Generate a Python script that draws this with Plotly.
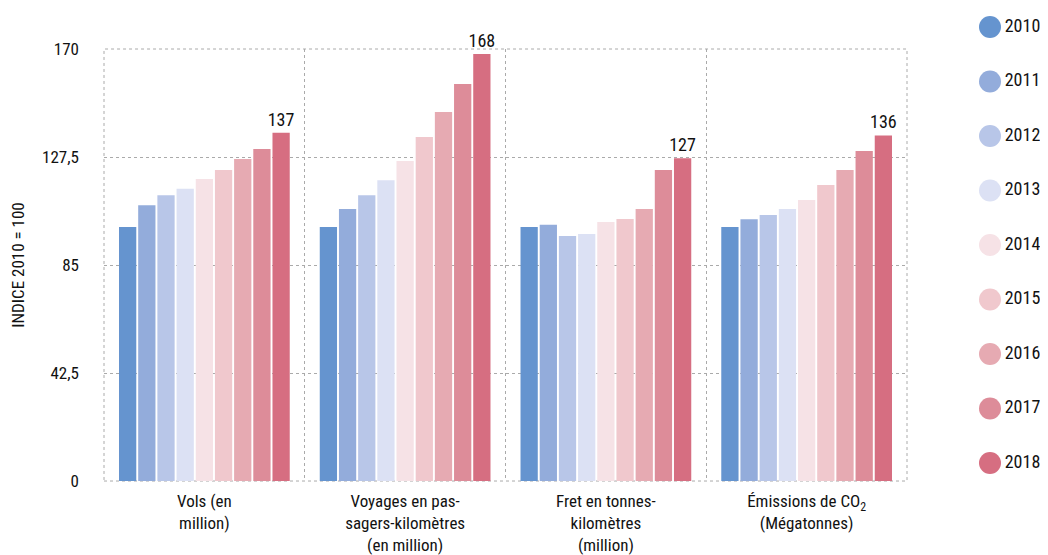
import plotly.graph_objects as go

categories = [
    "Vols (en<br>million)",
    "Voyages en pas-<br>sagers-kilomètres<br>(en million)",
    "Fret en tonnes-<br>kilomètres<br>(million)",
    "Émissions de CO<sub>2</sub><br>(Mégatonnes)",
]
years = ["2010", "2011", "2012", "2013", "2014", "2015", "2016", "2017", "2018"]
values = {
    "2010": [100, 100, 100, 100],
    "2011": [108.5, 107, 100.8, 103],
    "2012": [112.5, 112.5, 96.4, 104.7],
    "2013": [115, 118.4, 97.2, 107],
    "2014": [118.8, 125.9, 101.9, 110.6],
    "2015": [122.4, 135.4, 103.1, 116.5],
    "2016": [126.7, 145.2, 107, 122.4],
    "2017": [130.7, 156.2, 122.4, 129.9],
    "2018": [137, 168, 127, 136],
}
colors = ["#6594cf", "#93acdb", "#b8c6e8", "#dce1f4", "#f6e2e6",
          "#f0c8cd", "#e6aab2", "#dd8c99", "#d66e81"]
y_ticks = [0, 42.5, 85, 127.5, 170]
y_ticktext = ["0", "42,5", "85", "127,5", "170"]

FONT = "Roboto Condensed, Liberation Sans Narrow, Roboto, sans-serif"
TXT = "#111111"
GRID = "#aaaaaa"

fig = go.Figure()
for i, yr in enumerate(years):
    is_last = yr == years[-1]
    fig.add_trace(go.Bar(
        x=categories, y=values[yr], name=yr,
        marker=dict(color=colors[i], line=dict(width=0)),
        text=[f"{v:g}" for v in values[yr]] if is_last else None,
        textposition="outside" if is_last else "none",
        constraintext="none",
        textfont=dict(family=FONT, size=18, color=TXT),
        cliponaxis=False, showlegend=False, hoverinfo="x+y+name",
    ))

# legend drawn as circles on a side axis, from the years list
fig.add_trace(go.Scatter(
    x=[0] * len(years), y=list(range(len(years))),
    mode="markers+text", xaxis="x2", yaxis="y2",
    marker=dict(color=colors, size=22, line=dict(width=0)),
    text=years, textposition="middle right",
    textfont=dict(family=FONT, size=18, color=TXT),
    showlegend=False, hoverinfo="skip", cliponaxis=False,
))

# dotted frame around the plotting area
fig.add_shape(type="rect", xref="x domain", yref="y domain",
              x0=0, x1=1, y0=0, y1=1,
              line=dict(color=GRID, width=1, dash="dot"), layer="below")

fig.update_layout(
    width=1048, height=555,
    margin=dict(l=96, r=0, t=0, b=0, autoexpand=False),
    plot_bgcolor="white", paper_bgcolor="white",
    barmode="group", bargap=0.14, bargroupgap=0.1,
    font=dict(family=FONT, size=17, color=TXT),
    xaxis=dict(
        type="category", tickson="boundaries", showgrid=True,
        gridcolor=GRID, griddash="dot", gridwidth=1,
        showline=False, zeroline=False, ticks="",
        ticklabelstandoff=8, automargin=False,
        tickfont=dict(family=FONT, size=17, color=TXT),
        domain=[0, 0.8435],
    ),
    yaxis=dict(
        range=[0, 170], tickvals=y_ticks, ticktext=y_ticktext,
        domain=[0.1477, 0.9261],
        showgrid=True, gridcolor=GRID, griddash="dot", gridwidth=1,
        zeroline=False, showline=False, ticks="",
        ticklabelstandoff=24, automargin=False,
        tickfont=dict(family=FONT, size=17, color=TXT),
        title=dict(text="INDICE 2010 = 100", standoff=20,
                   font=dict(family=FONT, size=17, color=TXT)),
    ),
    xaxis2=dict(domain=[0.9, 1.0], anchor="y2", range=[-1, 2.26],
                visible=False, fixedrange=True),
    yaxis2=dict(domain=[0, 1], anchor="x2", range=[9.835, -0.349],
                visible=False, fixedrange=True),
)

fig.write_html("out.html")
